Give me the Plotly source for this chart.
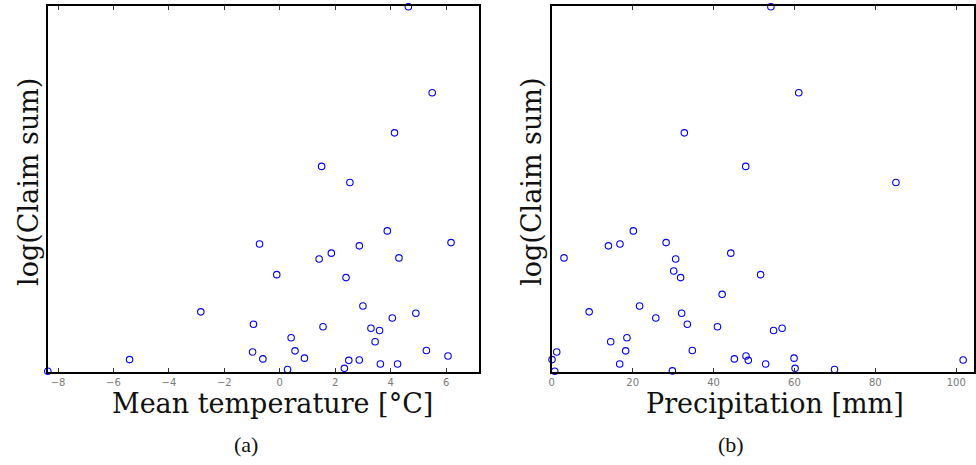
import plotly.graph_objects as go

# Panel (a): mean temperature vs log(claim sum)
temp_a = [4.64, 5.50, 4.14, 1.51, 2.53, 3.88, -0.73, 6.18, 2.87, 1.86, 1.42, 4.30,
          -0.11, 2.39, 3.00, -2.85, 4.91, 4.06, -0.95, 1.56, 3.29, 3.60, 0.41, 3.44,
          -0.98, 0.55, 5.29, 6.07, -5.42, -0.61, 0.89, 2.49, 2.87, 3.63, 4.25, 0.28,
          2.33, -8.37]
claim_a = [10.0, 7.64, 6.54, 5.62, 5.18, 3.85, 3.49, 3.53, 3.44, 3.24, 3.08, 3.11,
           2.65, 2.57, 1.79, 1.63, 1.59, 1.46, 1.29, 1.22, 1.18, 1.12, 0.92, 0.81,
           0.53, 0.56, 0.57, 0.42, 0.32, 0.34, 0.36, 0.30, 0.31, 0.20, 0.20, 0.05,
           0.08, 0.0]

# Panel (b): precipitation vs log(claim sum)
precip_b = [54.18, 61.07, 32.78, 47.96, 85.10, 20.17, 14.02, 16.87, 28.28, 3.03,
            30.64, 44.27, 30.15, 31.87, 51.65, 42.13, 21.72, 9.25, 25.73, 32.12,
            33.52, 40.97, 54.84, 56.96, 18.59, 14.58, 1.23, 18.27, 34.75, 48.03,
            0.07, 45.15, 48.60, 59.91, 101.72, 16.80, 52.88, 60.16, 69.92, 29.83, 0.74]
claim_b = [10.0, 7.64, 6.54, 5.62, 5.18, 3.85, 3.44, 3.49, 3.53, 3.11,
           3.08, 3.24, 2.75, 2.57, 2.65, 2.11, 1.79, 1.63, 1.46, 1.59,
           1.29, 1.22, 1.12, 1.18, 0.92, 0.81, 0.53, 0.56, 0.57, 0.42,
           0.32, 0.34, 0.30, 0.36, 0.31, 0.20, 0.20, 0.08, 0.05, 0.01, 0.0]

xticks_a = [-8, -6, -4, -2, 0, 2, 4, 6]
xticks_b = [0, 20, 40, 60, 80, 100]

W, H = 976, 465
marker = dict(symbol="circle-open", size=6.5, color="#0000ff", line=dict(width=1.1, color="#0000ff"))

fig = go.Figure()
fig.add_trace(go.Scatter(x=temp_a, y=claim_a, mode="markers", marker=marker,
                         xaxis="x", yaxis="y", cliponaxis=False, showlegend=False))
fig.add_trace(go.Scatter(x=precip_b, y=claim_b, mode="markers", marker=marker,
                         xaxis="x2", yaxis="y2", cliponaxis=False, showlegend=False))

ydom = [1 - 372 / H, 1 - 6 / H]
xcommon = dict(showline=True, linecolor="black", linewidth=1.5, mirror="ticks",
               ticks="inside", ticklen=4, tickwidth=1, tickcolor="#333333",
               showgrid=False, zeroline=False,
               tickfont=dict(family="DejaVu Sans", size=10, color="#7a7a7a"))
ycommon = dict(showline=True, linecolor="black", linewidth=1.5, mirror=True,
               ticks="", showticklabels=False, showgrid=False, zeroline=False,
               range=[-0.02, 10.02], domain=ydom)

fig.update_layout(
    width=W, height=H,
    margin=dict(l=0, r=0, t=0, b=0),
    paper_bgcolor="white", plot_bgcolor="white",
    xaxis=dict(domain=[45 / W, 478 / W], range=[-8.37, 7.19], tickvals=xticks_a,
               anchor="y", **xcommon),
    yaxis=dict(anchor="x", **ycommon),
    xaxis2=dict(domain=[551 / W, 975 / W], range=[0, 104.4], tickvals=xticks_b,
                anchor="y2", **xcommon),
    yaxis2=dict(anchor="x2", **ycommon),
)

title_font = dict(family="DejaVu Serif", size=27, color="#111111")
sub_font = dict(family="Liberation Serif", size=22, color="#111111")
ann = [
    dict(text="Mean temperature [°C]", x=271 / W, y=1 - 403 / H, font=title_font),
    dict(text="Precipitation [mm]", x=775 / W, y=1 - 403 / H, font=title_font),
    dict(text="log(Claim sum)", x=26 / W, y=1 - 182 / H, font=title_font, textangle=-90),
    dict(text="log(Claim sum)", x=531 / W, y=1 - 182 / H, font=title_font, textangle=-90),
    dict(text="(a)", x=244 / W, y=1 - 444 / H, font=sub_font),
    dict(text="(b)", x=731 / W, y=1 - 444 / H, font=sub_font),
]
for a in ann:
    fig.add_annotation(xref="paper", yref="paper", showarrow=False,
                       xanchor="center", yanchor="middle", **a)

fig.write_html("out.html")
